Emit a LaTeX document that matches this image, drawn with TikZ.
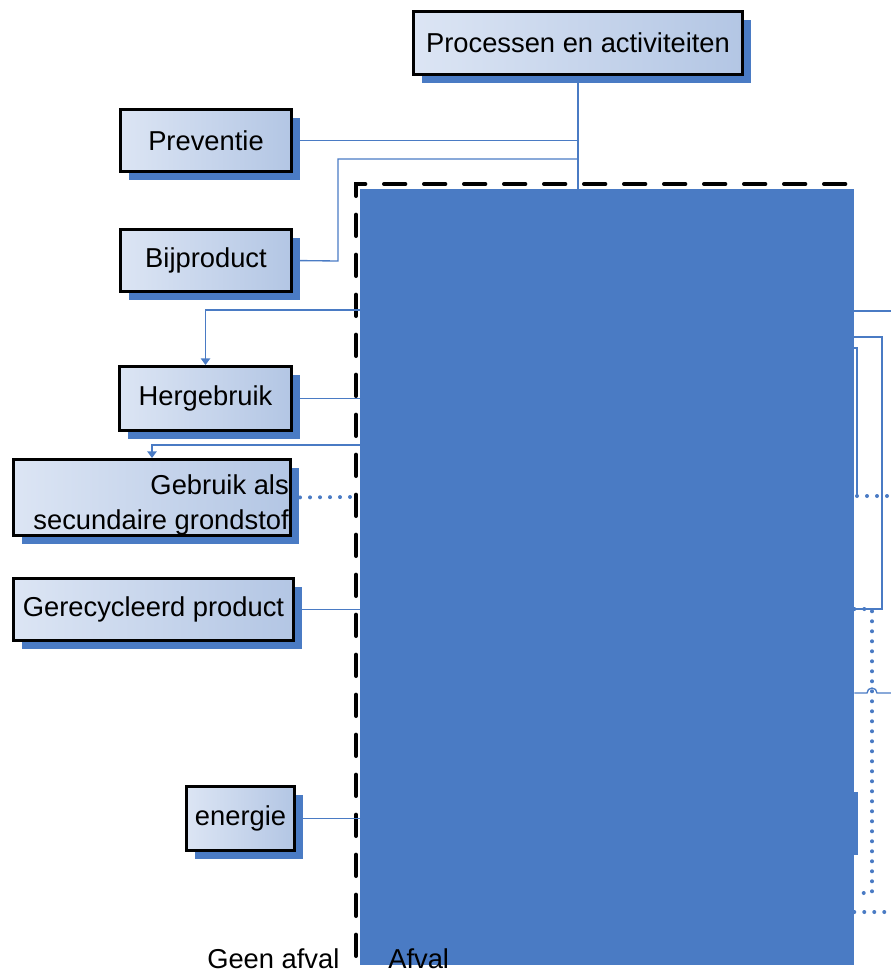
\documentclass[tikz,border=0pt]{standalone}
\usepackage{fontspec}
\setmainfont{Liberation Sans}
\usetikzlibrary{arrows.meta,shadows,calc}
\definecolor{bblue}{HTML}{4A7BC4}
\definecolor{glight}{HTML}{DCE5F4}
\definecolor{gdark}{HTML}{B3C6E4}
\tikzset{
  box/.style={draw=black, line width=2.2pt, rectangle, inner sep=0pt,
    left color=glight, right color=gdark,
    drop shadow={shadow xshift=6pt, shadow yshift=-6pt, fill=bblue, opacity=1},
    font=\fontsize{20.5}{26}\selectfont},
  conn/.style={draw=bblue, line width=1pt},
  tip/.style={-{Triangle[length=5pt,width=7pt]}},
  dotline/.style={draw=bblue, line width=3pt, line cap=round, dash pattern=on 0pt off 7.5pt},
  lbl/.style={font=\fontsize{20.5}{26}\selectfont, inner sep=0pt}
}
\begin{document}
\begin{tikzpicture}[x=0.75pt,y=-0.75pt]
\useasboundingbox (0,0) rectangle (891,972);
% big blue area
\node[fill=bblue, inner sep=0pt, minimum width=494*0.75pt, minimum height=776*0.75pt] (afv) at (607,577) {};
\fill[bblue] (853,792) rectangle (858,855);
% dashed border
\draw[line width=3pt, line cap=round, dash pattern=on 16pt off 14pt] (356,956) -- (356,184) -- (850,184);
% boxes
\node[box, minimum width=329*0.75pt, minimum height=63*0.75pt] (top) at (578,43) {Processen en activiteiten};
\node[box, minimum width=171*0.75pt, minimum height=62*0.75pt] (prev) at (206,140.5) {Preventie};
\node[box, minimum width=171*0.75pt, minimum height=62*0.75pt] (bij) at (206,260.5) {Bijproduct};
\node[box, minimum width=172*0.75pt, minimum height=64*0.75pt] (her) at (205.5,398.5) {Hergebruik};
\node[box, minimum width=277*0.75pt, minimum height=76*0.75pt] (geb) at (152,497.5) {};
\node[lbl, anchor=east, align=right] (gebt) at (289,505) {Gebruik als\\secundaire grondstof};
\node[box, minimum width=280*0.75pt, minimum height=62*0.75pt] (rec) at (153.5,609.5) {Gerecycleerd product};
\node[box, minimum width=108*0.75pt, minimum height=64*0.75pt] (ene) at (240.5,818.5) {energie};
% labels
\node[lbl, anchor=base west] (geen) at (207,968) {Geen afval};
\node[lbl, anchor=base west] (afvl) at (388,968) {Afval};
% connectors from top
\draw[conn] (top.south) -- (top.south |- afv.north);
\draw[conn, tip] (top.south |- prev.east) -- (prev.east);
\draw[conn, tip] (top.south |- 0,159) -| (338,261) -- (bij.east);
% connectors to the left
\draw[conn, tip] (afv.west |- her.east) -- (her.east);
\draw[conn, tip] (afv.west |- 0,310) -| (her.north);
\draw[conn, tip] (afv.west |- 0,445) -| (geb.north);
\draw[dotline, tip] (350,497) -- (geb.east);
\draw[conn, tip] (afv.west |- rec.east) -- (rec.east);
\draw[conn, tip] (afv.west |- ene.east) -- (ene.east);
% right side
\coordinate (r311) at (891,311);
\coordinate (r496) at (891,496);
\coordinate (r693) at (891,693);
\coordinate (r912) at (891,912);
\draw[conn] (afv.east |- r311) -- (r311);
\draw[conn] (afv.east |- 0,337) -- (882,337) -- (882,609) -- (afv.east |- 0,609);
\draw[conn] (afv.east |- 0,348) -- (857,348) -- (857,496);
\draw[dotline] (857,496) -- (r496);
\draw[dotline] (afv.east |- 0,609) -- (872,609) -- (872,893) -- (afv.east |- 0,893);
\draw[conn] (afv.east |- r693) -- (867,693) arc[start angle=180, end angle=360, radius=5] -- (r693);
\draw[dotline] (afv.east |- r912) -- (r912);
\end{tikzpicture}
\end{document}
